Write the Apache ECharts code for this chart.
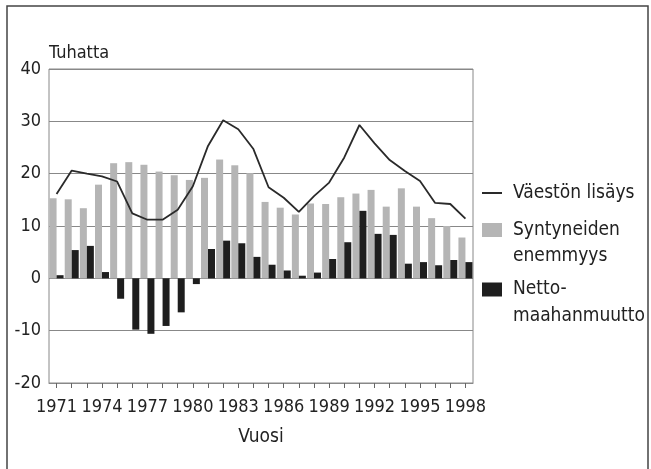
<!DOCTYPE html>
<html>
<head>
<meta charset="utf-8">
<script src="https://cdn.jsdelivr.net/npm/echarts@6/dist/echarts.min.js"></script>
<style>
  html, body { margin: 0; padding: 0; background: #fff; }
  #main { width: 651px; height: 469px; }
</style>
</head>
<body>
<div id="main"></div>
<script>
  // vuodet 1971-1998
  var years = ['1971','1972','1973','1974','1975','1976','1977','1978','1979','1980',
               '1981','1982','1983','1984','1985','1986','1987','1988','1989','1990',
               '1991','1992','1993','1994','1995','1996','1997','1998'];
  // Väestön lisäys (tuhatta)
  var vaestonLisays = [16.1, 20.6, 20.0, 19.5, 18.5, 12.4, 11.2, 11.2, 13.1, 17.6,
                       25.3, 30.2, 28.5, 24.7, 17.4, 15.4, 12.7, 15.7, 18.3, 23.1,
                       29.3, 25.8, 22.6, 20.5, 18.6, 14.4, 14.2, 11.4];
  // Syntyneiden enemmyys
  var syntyneet = [15.3, 15.1, 13.4, 17.9, 22.0, 22.2, 21.7, 20.4, 19.7, 18.8,
                   19.2, 22.7, 21.6, 20.1, 14.6, 13.5, 12.2, 14.3, 14.2, 15.5,
                   16.2, 16.9, 13.7, 17.2, 13.7, 11.5, 10.0, 7.8];
  // Nettomaahanmuutto
  var netto = [0.6, 5.4, 6.2, 1.2, -3.9, -9.8, -10.6, -9.1, -6.5, -1.1,
               5.6, 7.2, 6.7, 4.1, 2.6, 1.5, 0.5, 1.1, 3.7, 6.9,
               12.9, 8.5, 8.3, 2.8, 3.1, 2.5, 3.5, 3.1];

  var font = "'Liberation Sans Narrow', 'DejaVu Sans Condensed', sans-serif";
  var txt = '#222';

  // ikoni ensimmäisen rivin kohdalle: tyhjä rivi alkuun
  function firstLineFmt(name) {
    return '\n' + name;
  }

  var chart = echarts.init(document.getElementById('main'));
  chart.setOption({
    animation: false,
    textStyle: { fontFamily: font },
    grid: {
      left: 49, right: 178, top: 69, bottom: 86,
      show: true, borderColor: '#888', borderWidth: 1
    },
    graphic: [{
      type: 'rect',
      shape: { x: 7, y: 6, width: 641, height: 470 },
      style: { fill: 'none', stroke: '#444', lineWidth: 1.5 },
      silent: true
    }],
    legend: [
      {
        data: [{ name: 'Väestön lisäys', icon: 'rect' }],
        left: 482, top: 180, padding: 0,
        itemWidth: 20, itemHeight: 2,
        textStyle: { fontFamily: font, fontSize: 19, color: txt, lineHeight: 26, padding: [0, 0, 0, 6] }
      },
      {
        data: [{ name: 'Syntyneiden\nenemmyys', icon: 'rect' }],
        left: 482, top: 191, padding: 0,
        itemWidth: 20, itemHeight: 14,
        formatter: firstLineFmt,
        textStyle: { fontFamily: font, fontSize: 19, color: txt, lineHeight: 26, padding: [0, 0, 0, 6] }
      },
      {
        data: [{ name: 'Netto-\nmaahanmuutto', icon: 'rect' }],
        left: 482, top: 249, padding: 0,
        itemWidth: 20, itemHeight: 14,
        formatter: firstLineFmt,
        textStyle: { fontFamily: font, fontSize: 19, color: txt, lineHeight: 27, padding: [0, 0, 0, 6] }
      }
    ],
    xAxis: {
      type: 'category',
      data: years,
      name: 'Vuosi',
      nameLocation: 'middle',
      nameGap: 45,
      nameTextStyle: { fontFamily: font, fontSize: 19, color: txt },
      axisLine: { onZero: false, lineStyle: { color: '#888' } },
      axisTick: { show: true, interval: 0, alignWithLabel: true, length: 5, lineStyle: { color: '#666' } },
      axisLabel: { interval: 2, fontFamily: font, fontSize: 18, color: txt, margin: 15 },
      splitLine: { show: false }
    },
    yAxis: {
      type: 'value',
      min: -20, max: 40, interval: 10,
      name: 'Tuhatta',
      nameLocation: 'end',
      nameGap: 7,
      nameTextStyle: { fontFamily: font, fontSize: 18, color: txt, align: 'left' },
      axisLine: { show: false },
      axisTick: { show: false },
      axisLabel: { fontFamily: font, fontSize: 18, color: txt, margin: 8 },
      splitLine: { show: true, lineStyle: { color: '#888', width: 1 } }
    },
    series: [
      {
        name: 'Väestön lisäys',
        type: 'line',
        data: vaestonLisays,
        symbol: 'none',
        z: 5,
        itemStyle: { color: '#2a2a2a' },
        lineStyle: { color: '#2a2a2a', width: 1.8 }
      },
      {
        name: 'Syntyneiden\nenemmyys',
        type: 'bar',
        data: syntyneet,
        barWidth: 7,
        barGap: '0%',
        itemStyle: { color: '#b5b5b5' }
      },
      {
        name: 'Netto-\nmaahanmuutto',
        type: 'bar',
        data: netto,
        barWidth: 7,
        barGap: '0%',
        itemStyle: { color: '#1e1e1e' }
      }
    ]
  });
</script>
</body>
</html>
